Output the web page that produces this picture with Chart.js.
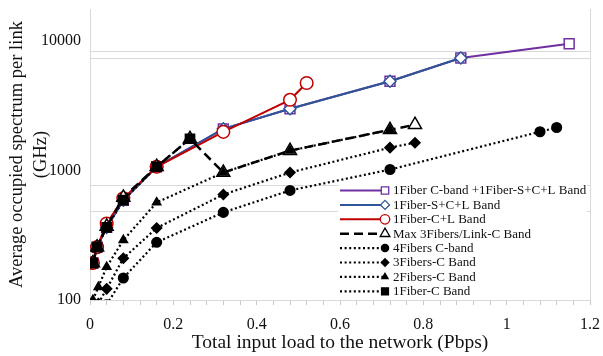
<!DOCTYPE html>
<html>
<head>
<meta charset="utf-8">
<script src="https://cdn.jsdelivr.net/npm/chart.js@4/dist/chart.umd.min.js"></script>
<style>
html,body{margin:0;padding:0;background:#fff;}
canvas{display:block;}
</style>
</head>
<body>
<canvas id="c" width="603" height="356"></canvas>
<script>
// ---- data (load in Pbps, spectrum in GHz) ----
const labels = [
  "1Fiber C-band +1Fiber-S+C+L Band",
  "1Fiber-S+C+L Band",
  "1Fiber-C+L Band",
  "Max 3Fibers/Link-C Band",
  "4Fibers C-band",
  "3Fibers-C Band",
  "2Fibers-C Band",
  "1Fiber-C Band"
];
const loadCSCL = [0.007, 0.017, 0.04, 0.08, 0.16, 0.32, 0.48, 0.72, 0.89, 1.15];
const specCSCL = [193, 256, 364, 590, 1070, 2100, 3000, 4900, 7400, 9550];
const loadSCL = [0.007, 0.017, 0.04, 0.08, 0.16, 0.32, 0.48, 0.72, 0.89];
const specSCL = [193, 256, 364, 590, 1070, 2100, 3000, 4900, 7400];
const loadCL = [0.007, 0.017, 0.04, 0.08, 0.16, 0.32, 0.48, 0.52];
const specCL = [193, 256, 390, 610, 1070, 1990, 3520, 4750];
const loadMax3 = [0.007, 0.017, 0.04, 0.08, 0.16, 0.24, 0.32, 0.48, 0.72, 0.78];
const specMax3 = [193, 256, 370, 620, 1070, 1760, 965, 1425, 2065, 2260];
const load4F = [0.04, 0.08, 0.16, 0.32, 0.48, 0.72, 1.08, 1.12];
const spec4F = [92, 148, 279, 475, 702, 1018, 1995, 2150];
const load3F = [0.02, 0.04, 0.08, 0.16, 0.32, 0.48, 0.72, 0.78];
const spec3F = [94, 122, 210, 360, 653, 965, 1503, 1640];
const load2F = [0.007, 0.02, 0.04, 0.08, 0.16, 0.32, 0.48, 0.72];
const spec2F = [100, 126, 180, 290, 567, 965, 1425, 2065];
const load1F = [0.007, 0.017, 0.04, 0.08, 0.16, 0.24];
const spec1F = [193, 256, 364, 590, 1070, 1760];

const xLabelValues = [0, 0.2, 0.4, 0.6, 0.8, 1, 1.2];
const yLabelValues = [100, 1000, 10000];
const yGridValues = [484, 767, 7400, 8380];

// ---- helpers ----
const pts = (xs, ys) => xs.map((x, i) => ({x: x, y: ys[i]}));
const FONT = '"Liberation Serif", "Times New Roman", serif';

function mk(i, xs, ys, color, style, radius, fill, dash, width, clip) {
  const ds = {
    label: labels[i],
    data: pts(xs, ys),
    borderColor: color,
    borderWidth: width,
    borderDash: dash,
    borderCapStyle: 'butt',
    pointStyle: style,
    pointRadius: radius,
    pointHoverRadius: radius,
    pointBackgroundColor: fill,
    pointBorderColor: color,
    pointBorderWidth: 1.5,
    showLine: true,
    tension: 0,
    fill: false,
    order: 7 - i
  };
  if (clip !== undefined) ds.clip = clip;
  return ds;
}

const datasets = [
  mk(0, loadCSCL, specCSCL, '#7030A0', 'rect', 7, '#ffffff', [], 2),
  mk(1, loadSCL, specSCL, '#2F5597', 'rectRot', 6, '#ffffff', [], 2),
  mk(2, loadCL, specCL, '#C00000', 'circle', 6.3, '#ffffff', [], 2),
  mk(3, loadMax3, specMax3, '#000000', 'triangle', 7.5, '#ffffff', [9, 5], 2.5),
  mk(4, load4F, spec4F, '#000000', 'circle', 4.8, '#000000', [2, 2.6], 2.2, 0),
  mk(5, load3F, spec3F, '#000000', 'rectRot', 5, '#000000', [2, 2.6], 2.2, 0),
  mk(6, load2F, spec2F, '#000000', 'triangle', 4.8, '#000000', [2, 2.6], 2.2),
  mk(7, load1F, spec1F, '#000000', 'rect', 6.5, '#000000', [2, 2.6], 2.2)
];

function drawMarker(ctx, style, x, y, r, fill, stroke, bw) {
  ctx.save();
  ctx.beginPath();
  if (style === 'rect') {
    const s = Math.SQRT1_2 * r;
    ctx.rect(x - s, y - s, 2 * s, 2 * s);
  } else if (style === 'rectRot') {
    ctx.moveTo(x, y - r); ctx.lineTo(x + r, y); ctx.lineTo(x, y + r); ctx.lineTo(x - r, y); ctx.closePath();
  } else if (style === 'triangle') {
    ctx.moveTo(x, y - r);
    ctx.lineTo(x + Math.sin(2 * Math.PI / 3) * r, y - Math.cos(2 * Math.PI / 3) * r);
    ctx.lineTo(x + Math.sin(4 * Math.PI / 3) * r, y - Math.cos(4 * Math.PI / 3) * r);
    ctx.closePath();
  } else {
    ctx.arc(x, y, r, 0, Math.PI * 2);
  }
  ctx.fillStyle = fill; ctx.fill();
  ctx.setLineDash([]);
  ctx.lineWidth = bw; ctx.strokeStyle = stroke; ctx.stroke();
  ctx.restore();
}

const sideLegend = {
  id: 'sideLegend',
  afterDatasetsDraw(chart) {
    const ctx = chart.ctx;
    const a = chart.chartArea;
    const left = a.left + 248;
    const top = a.bottom - 117;
    ctx.save();
    ctx.fillStyle = '#ffffff';
    ctx.fillRect(left, top, a.right - left - 3, a.bottom - top - 2);
    chart.data.datasets.forEach((ds, i) => {
      const y = top + 7.5 + i * 14.4;
      ctx.save();
      ctx.strokeStyle = ds.borderColor;
      ctx.lineWidth = ds.borderWidth;
      ctx.setLineDash(ds.borderDash || []);
      ctx.beginPath();
      ctx.moveTo(left + 2, y);
      ctx.lineTo(left + 46, y);
      ctx.stroke();
      ctx.restore();
      drawMarker(ctx, ds.pointStyle, left + 47, y, ds.pointRadius * 0.75, ds.pointBackgroundColor, ds.pointBorderColor, 1.3);
      ctx.fillStyle = '#111';
      ctx.font = '13px ' + FONT;
      ctx.textBaseline = 'middle';
      ctx.textAlign = 'left';
      ctx.fillText(ds.label, left + 55, y + 0.5);
    });
    ctx.restore();
  }
};

new Chart(document.getElementById('c'), {
  type: 'scatter',
  data: { datasets: datasets },
  plugins: [sideLegend],
  options: {
    responsive: false,
    animation: false,
    devicePixelRatio: 1,
    layout: { padding: { top: 0, right: 13, left: 0, bottom: 0 } },
    plugins: { legend: { display: false }, tooltip: { enabled: false } },
    scales: {
      x: {
        type: 'linear',
        min: 0,
        max: 1.2,
        afterBuildTicks: s => {
          const t = [];
          for (let k = 0; k <= 30; k++) t.push({ value: +(k * 0.04).toFixed(2) });
          s.ticks = t;
        },
        afterFit: s => { s.height = 56; s.paddingLeft = 0; s.paddingRight = 0; },
        ticks: {
          autoSkip: false,
          maxRotation: 0,
          padding: 10,
          color: '#111',
          font: { family: FONT, size: 16 },
          callback: v => {
            const hit = xLabelValues.find(l => Math.abs(l - v) < 1e-6);
            return hit === undefined ? '' : String(hit);
          }
        },
        grid: {
          drawOnChartArea: true,
          tickLength: 5,
          tickColor: '#c8c8c8',
          color: c => (c.tick && Math.abs(c.tick.value - 1.2) < 1e-6) ? '#d9d9d9' : 'rgba(0,0,0,0)'
        },
        border: { display: true, color: '#d9d9d9' },
        title: {
          display: true,
          text: 'Total input load to the network (Pbps)',
          color: '#111',
          font: { family: FONT, size: 19.5 },
          padding: { top: 0, bottom: 1 }
        }
      },
      y: {
        type: 'logarithmic',
        min: 100,
        max: 17700,
        afterBuildTicks: s => {
          const vals = yLabelValues.concat(yGridValues).sort((a, b) => a - b);
          s.ticks = vals.map(v => ({ value: v }));
        },
        afterFit: s => { s.width = 90; s.paddingTop = 0; s.paddingBottom = 0; },
        ticks: {
          autoSkip: false,
          padding: 9,
          color: '#111',
          font: { family: FONT, size: 16 },
          callback: v => yLabelValues.includes(v) ? String(v) : ''
        },
        grid: {
          drawTicks: false,
          color: c => (c.tick && yGridValues.includes(c.tick.value)) ? '#d9d9d9' : 'rgba(0,0,0,0)'
        },
        border: { display: true, color: '#d9d9d9' },
        title: {
          display: true,
          text: ['Average occupied spectrum per link', '(GHz)'],
          color: '#111',
          font: { family: FONT, size: 18.5, lineHeight: 1.25 },
          padding: { top: 6, bottom: 0 }
        }
      }
    }
  }
});
</script>
</body>
</html>
